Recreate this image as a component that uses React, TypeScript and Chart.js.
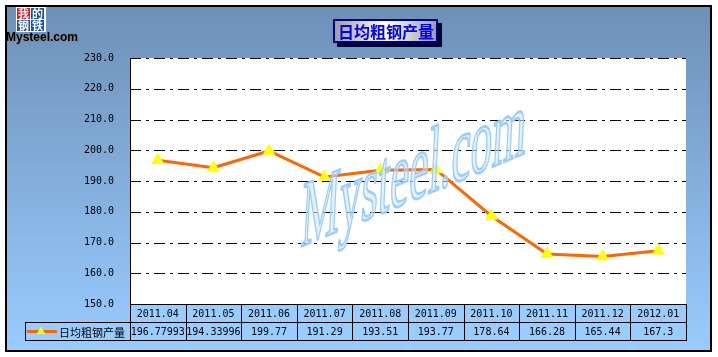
import { useEffect, useRef } from "react";
import { Chart, registerables } from "chart.js";

Chart.register(...registerables);

const categories = ["2011.04", "2011.05", "2011.06", "2011.07", "2011.08", "2011.09", "2011.10", "2011.11", "2011.12", "2012.01"];
const values = [196.77993, 194.33996, 199.77, 191.29, 193.51, 193.77, 178.64, 166.28, 165.44, 167.3];
const valueLabels = ["196.77993", "194.33996", "199.77", "191.29", "193.51", "193.77", "178.64", "166.28", "165.44", "167.3"];
const seriesName = "日均粗钢产量";
const chartTitle = "日均粗钢产量";
const yMin = 150;
const yMax = 230;
const yStep = 10;
const logoChars = ["我", "的", "钢", "铁"];
const logoText = "Mysteel.com";
const watermarkText = "Mysteel.com";

const MONO = "'DejaVu Sans Mono', 'Liberation Mono', monospace";
const CJK = "'Noto Sans CJK SC', sans-serif";

function drawTriangle(ctx: CanvasRenderingContext2D, cx: number, cy: number, r: number) {
  ctx.beginPath();
  ctx.moveTo(cx, cy - r);
  ctx.lineTo(cx + r * 0.866, cy + r * 0.5);
  ctx.lineTo(cx - r * 0.866, cy + r * 0.5);
  ctx.closePath();
  ctx.fill();
}

const decor = {
  id: "decor",
  beforeDraw(chart: any) {
    const ctx: CanvasRenderingContext2D = chart.ctx;
    const { width, height } = chart;
    const a = chart.chartArea;
    const y = chart.scales.y;
    ctx.save();
    ctx.fillStyle = "#ffffff";
    ctx.fillRect(0, 0, width, height);
    const g = ctx.createLinearGradient(0, 5, 0, 352);
    g.addColorStop(0, "#6d90b7");
    g.addColorStop(1, "#99ccff");
    ctx.fillStyle = g;
    ctx.fillRect(5, 5, 707, 347);
    ctx.lineWidth = 2;
    ctx.strokeStyle = "#000000";
    ctx.strokeRect(6, 6, 705, 345);

    // plot area
    ctx.fillStyle = "#ffffff";
    ctx.fillRect(a.left, a.top, a.right - a.left, a.bottom - a.top);

    // grid lines
    ctx.strokeStyle = "#000000";
    ctx.lineWidth = 1;
    ctx.setLineDash([11, 5, 3, 5]);
    for (let v = yMin + yStep; v <= yMax; v += yStep) {
      const py = Math.round(y.getPixelForValue(v)) + 0.5;
      ctx.beginPath();
      ctx.moveTo(a.left, py);
      ctx.lineTo(a.right, py);
      ctx.stroke();
    }
    ctx.setLineDash([]);
    ctx.beginPath();
    ctx.moveTo(a.left + 0.5, a.top);
    ctx.lineTo(a.left + 0.5, a.bottom);
    ctx.stroke();

    // data table
    const x = chart.scales.x;
    const band = x.getPixelForValue(1) - x.getPixelForValue(0);
    const r1 = Math.round(a.bottom);
    const r2 = r1 + 18;
    const r3 = r2 + 18;
    ctx.lineWidth = 1;
    categories.forEach((c, i) => {
      const cx = x.getPixelForValue(i);
      const l = Math.round(cx - band / 2) + 0.5;
      const rr = Math.round(cx + band / 2) + 0.5;
      ctx.fillStyle = "#99ccff";
      ctx.fillRect(l, r1 + 0.5, rr - l, r3 - r1);
      ctx.strokeStyle = "#000000";
      ctx.strokeRect(l, r1 + 0.5, rr - l, r2 - r1);
      ctx.strokeRect(l, r2 + 0.5, rr - l, r3 - r2);
      ctx.fillStyle = "#000000";
      ctx.font = `10px ${MONO}`;
      ctx.textAlign = "center";
      ctx.textBaseline = "middle";
      ctx.fillText(c, cx, (r1 + r2) / 2 + 1);
      ctx.fillText(valueLabels[i], cx, (r2 + r3) / 2 + 1);
    });
    // legend cell
    const lx = 25.5;
    ctx.fillStyle = "#99ccff";
    ctx.fillRect(lx, r2 + 0.5, a.left - lx, r3 - r2);
    ctx.strokeStyle = "#000000";
    ctx.strokeRect(lx, r2 + 0.5, a.left + 0.5 - lx, r3 - r2);
    const ly = (r2 + r3) / 2 + 0.5;
    ctx.strokeStyle = "#ff6600";
    ctx.lineWidth = 3;
    ctx.beginPath();
    ctx.moveTo(27, ly);
    ctx.lineTo(57, ly);
    ctx.stroke();
    ctx.fillStyle = "#ffff00";
    drawTriangle(ctx, 41, ly, 5);
    ctx.fillStyle = "#000000";
    ctx.font = `11px ${CJK}`;
    ctx.textAlign = "left";
    ctx.textBaseline = "middle";
    ctx.fillText(seriesName, 59, ly + 1);

    // title
    ctx.fillStyle = "#000033";
    ctx.fillRect(337, 23, 105, 24);
    const tg = ctx.createLinearGradient(333, 0, 438, 0);
    tg.addColorStop(0, "#9a9a9a");
    tg.addColorStop(0.5, "#ffffff");
    tg.addColorStop(1, "#9a9a9a");
    ctx.fillStyle = tg;
    ctx.fillRect(333, 19, 105, 24);
    ctx.strokeStyle = "#000080";
    ctx.lineWidth = 2;
    ctx.strokeRect(334, 20, 103, 22);
    ctx.fillStyle = "#0000ff";
    ctx.font = `bold 16px ${CJK}`;
    ctx.textAlign = "center";
    ctx.textBaseline = "middle";
    ctx.fillText(chartTitle, 386, 32);

    // logo
    const boxes = [
      [17, 8, "#e8101a"],
      [31, 8, "#1a4fb0"],
      [17, 20, "#1a4fb0"],
      [31, 20, "#1a4fb0"],
    ];
    ctx.fillStyle = "#ffffff";
    ctx.fillRect(16, 7, 30, 25);
    boxes.forEach((b, i) => {
      ctx.fillStyle = b[2] as string;
      ctx.fillRect(b[0] as number, b[1] as number, 13, 11);
      ctx.fillStyle = "#ffffff";
      ctx.font = `bold 11px ${CJK}`;
      ctx.textAlign = "center";
      ctx.textBaseline = "middle";
      ctx.fillText(logoChars[i], (b[0] as number) + 6.5, (b[1] as number) + 6);
    });
    ctx.font = "bold 12px 'Liberation Sans', sans-serif";
    ctx.textAlign = "left";
    ctx.textBaseline = "alphabetic";
    ctx.fillStyle = "#888888";
    ctx.fillText(logoText, 7, 42);
    ctx.fillStyle = "#000000";
    ctx.fillText(logoText, 6, 41);
    ctx.restore();
  },
  afterDatasetsDraw(chart: any) {
    const ctx: CanvasRenderingContext2D = chart.ctx;
    ctx.save();
    ctx.setTransform(0.456, -0.19, -0.05, 1, 300, 247);
    ctx.font = "95px 'Liberation Serif', serif";
    ctx.textAlign = "left";
    ctx.textBaseline = "alphabetic";
    ctx.fillStyle = "rgba(205,230,255,0.55)";
    ctx.fillText(watermarkText, 0, 0);
    ctx.strokeStyle = "#99ccff";
    ctx.lineWidth = 2.6;
    ctx.strokeText(watermarkText, 0, 0);
    ctx.restore();
  },
};

export default function App() {
  const ref = useRef<HTMLCanvasElement | null>(null);
  useEffect(() => {
    if (!ref.current) return;
    const chart = new Chart(ref.current, {
      type: "line",
      data: {
        labels: categories,
        datasets: [
          {
            label: seriesName,
            data: values,
            borderColor: "#ff6600",
            borderWidth: 3,
            pointStyle: "triangle",
            pointRadius: 7.5,
            pointBackgroundColor: "#ffff00",
            pointBorderColor: "#ffff00",
            pointBorderWidth: 0,
            tension: 0,
          },
        ],
      },
      options: {
        animation: false,
        responsive: false,
        devicePixelRatio: 1,
        layout: { padding: { left: 0, top: 58, right: 32, bottom: 53 } },
        plugins: { legend: { display: false }, tooltip: { enabled: false }, title: { display: false } },
        scales: {
          x: { type: "category", display: false, offset: true },
          y: {
            min: yMin,
            max: yMax,
            grid: { display: false, drawTicks: false },
            border: { display: false },
            afterFit: (s: any) => {
              s.width = 130;
            },
            ticks: {
              stepSize: yStep,
              padding: 16,
              color: "#000000",
              font: { family: MONO, size: 10 },
              callback: (v: any) => Number(v).toFixed(1),
            },
          },
        },
      },
      plugins: [decor],
    });
    return () => chart.destroy();
  }, []);
  return (
    <div style={{ position: "fixed", left: 0, top: 0, width: 718, height: 357 }}>
      <canvas ref={ref} width={718} height={357} style={{ width: 718, height: 357, display: "block" }} />
    </div>
  );
}
